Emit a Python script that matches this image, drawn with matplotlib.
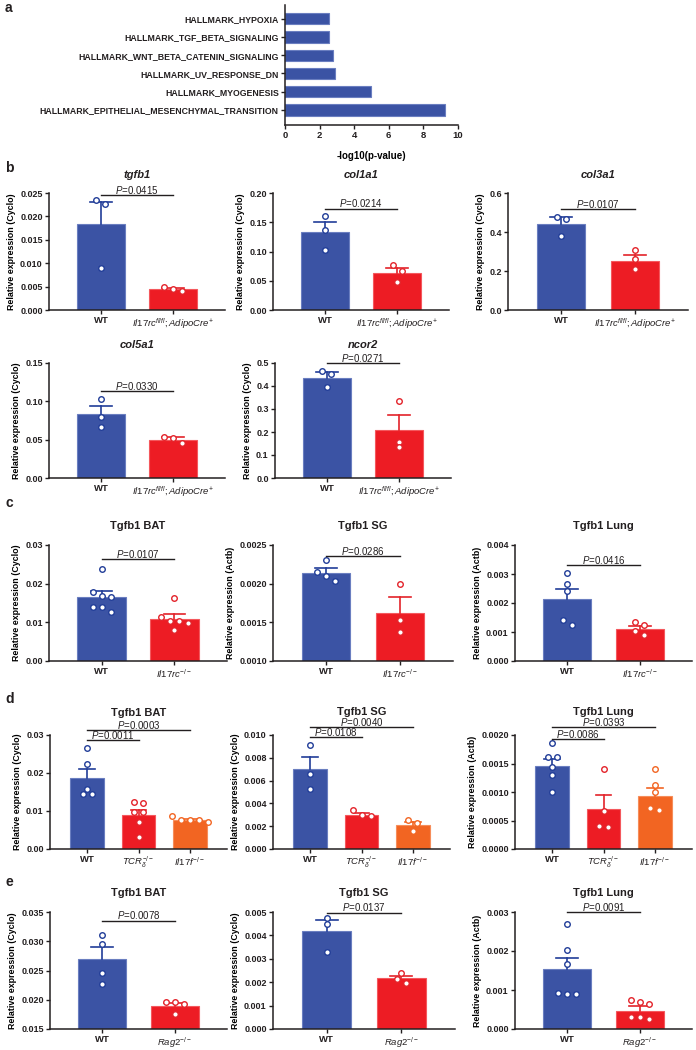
import numpy as np
import matplotlib
matplotlib.use('Agg')
import matplotlib.pyplot as plt

plt.rcParams['font.family'] = ['Liberation Sans', 'DejaVu Sans']
plt.rcParams['mathtext.fontset'] = 'custom'
plt.rcParams['mathtext.rm'] = 'Liberation Sans'
plt.rcParams['mathtext.it'] = 'Liberation Sans:italic'
plt.rcParams['mathtext.bf'] = 'Liberation Sans:bold'
plt.rcParams['text.color'] = '#231F20'

# ---- panel a data ----
a_terms = ['HALLMARK_HYPOXIA', 'HALLMARK_TGF_BETA_SIGNALING',
           'HALLMARK_WNT_BETA_CATENIN_SIGNALING', 'HALLMARK_UV_RESPONSE_DN',
           'HALLMARK_MYOGENESIS', 'HALLMARK_EPITHELIAL_MESENCHYMAL_TRANSITION']
a_values = [2.53, 2.57, 2.76, 2.91, 4.98, 9.27]

# ---- group labels ----
lab_fl = ['WT', r'$\mathit{Il17rc}^{\mathit{fl/fl}}\mathit{;AdipoCre}^{+}$']
lab_rc = ['WT', r'$\mathit{Il17rc}^{-/-}$']
lab_d = ['WT', r'$\mathit{TCR}_{\delta}^{-/-}$', r'$\mathit{Il17f}^{-/-}$']
lab_rag = ['WT', r'$\mathit{Rag2}^{-/-}$']

# ---- panel b ----
tgfb1_mean = [0.0183, 0.00442]
tgfb1_sem = [0.0047, 0.0003]
tgfb1_pts = [[0.0235, 0.0226, 0.0090], [0.0041, 0.0049, 0.0044]]

col1a1_mean = [0.1325, 0.063]
col1a1_sem = [0.0175, 0.0095]
col1a1_pts = [[0.161, 0.136, 0.103], [0.0766, 0.0674, 0.048]]

col3a1_mean = [0.441, 0.252]
col3a1_sem = [0.036, 0.029]
col3a1_pts = [[0.479, 0.469, 0.379], [0.309, 0.264, 0.212]]

col5a1_mean = [0.083, 0.0497]
col5a1_sem = [0.0103, 0.0033]
col5a1_pts = [[0.1024, 0.0799, 0.0669], [0.0535, 0.0518, 0.0454]]

ncor2_mean = [0.435, 0.207]
ncor2_sem = [0.024, 0.065]
ncor2_pts = [[0.467, 0.452, 0.395], [0.335, 0.158, 0.134]]

# ---- panel c ----
c_bat_mean = [0.01656, 0.01095]
c_bat_sem = [0.0016, 0.0012]
c_bat_pts = [[0.0239, 0.0179, 0.0168, 0.0166, 0.0140, 0.0139, 0.0128],
             [0.0162, 0.01035, 0.01035, 0.01146, 0.00991, 0.0080]]

c_sg_mean = [0.00214, 0.001625]
c_sg_sem = [0.00006, 0.0002]
c_sg_pts = [[0.0023, 0.00215, 0.0021, 0.00204], [0.00199, 0.00153, 0.00137]]

c_lung_mean = [0.00214, 0.0011]
c_lung_sem = [0.00036, 0.00012]
c_lung_pts = [[0.00303, 0.00266, 0.00243, 0.0014, 0.00123],
              [0.00125, 0.00133, 0.00105, 0.00088]]

# ---- panel d ----
d_bat_mean = [0.0187, 0.00887, 0.00757]
d_bat_sem = [0.0024, 0.0014, 0.0003]
d_bat_pts = [[0.0267, 0.0224, 0.0159, 0.0144, 0.0144],
             [0.0120, 0.0124, 0.0097, 0.0097, 0.0071, 0.0032],
             [0.0076, 0.0087, 0.0076, 0.0077, 0.0070]]

d_sg_mean = [0.0070, 0.0030, 0.0021]
d_sg_sem = [0.0011, 0.00015, 0.0003]
d_sg_pts = [[0.0091, 0.0066, 0.0053], [0.00338, 0.00286, 0.0030],
            [0.00256, 0.00228, 0.00157]]

d_lung_mean = [0.001464, 0.000703, 0.000934]
d_lung_sem = [0.00011, 0.00024, 0.00013]
d_lung_pts = [[0.001857, 0.001614, 0.001614, 0.00144, 0.0013, 0.000997],
              [0.00141, 0.000663, 0.000386, 0.000403],
              [0.0014, 0.00112, 0.0010, 0.00072, 0.00068]]

# ---- panel e ----
e_bat_mean = [0.02695, 0.0190]
e_bat_sem = [0.0020, 0.0005]
e_bat_pts = [[0.0311, 0.0296, 0.0245, 0.0227], [0.0197, 0.0193, 0.0197, 0.0176]]

e_sg_mean = [0.00417, 0.00217]
e_sg_sem = [0.00047, 0.00011]
e_sg_pts = [[0.00474, 0.00449, 0.00327], [0.00239, 0.00214, 0.00198]]

e_lung_mean = [0.001526, 0.000473]
e_lung_sem = [0.0003, 0.00011]
e_lung_pts = [[0.0027, 0.00202, 0.00166, 0.000905, 0.00092, 0.000905],
              [0.00075, 0.000647, 0.000688, 0.000259, 0.000318, 0.000318]]

FILL = ['#3B53A4', '#ED1C24', '#F26522']
EDGE = ['#6A7EC0', '#F4585D', '#F68D5A']
DARK = ['#213D98', '#E3232A', '#F26522']

W, H = 696, 1050
fig = plt.figure(figsize=(W / 100, H / 100), dpi=100)


def px_axes(x0, y0, x1, y1):
    return fig.add_axes([x0 / W, 1 - y1 / H, (x1 - x0) / W, (y1 - y0) / H])


def style_axes(ax):
    for s in ['top', 'right']:
        ax.spines[s].set_visible(False)
    for s in ['left', 'bottom']:
        ax.spines[s].set_linewidth(1.1)
        ax.spines[s].set_color('#231F20')
    ax.tick_params(direction='out', length=3, width=1, colors='#231F20', pad=1.5)


def swarm(vals, h_px, w_px, ylim, xrange_units):
    ppu = w_px / xrange_units
    ys = [(v - ylim[0]) / (ylim[1] - ylim[0]) * h_px for v in vals]
    order = np.argsort(ys)[::-1]
    clusters = []
    for idx in order:
        if clusters and ys[clusters[-1][-1]] - ys[idx] < 5.5:
            clusters[-1].append(idx)
        else:
            clusters.append([idx])
    offs = np.zeros(len(vals))
    for c in clusters:
        m = len(c)
        for k, idx in enumerate(c):
            offs[idx] = (k - (m - 1) / 2) * 9.0 / ppu
    return offs


def bar_panel(box, title, italic, labels, means, sems, pts, ylim, yticks, fmt,
              ylabel, pvals, title_off=18):
    ax = px_axes(*box)
    style_axes(ax)
    n = len(means)
    x = np.arange(n)
    xr = n - 1 + 1.44
    ax.bar(x, means, width=0.66, color=FILL[:n], edgecolor=EDGE[:n],
           linewidth=0.8, zorder=1)
    h_px = box[3] - box[1]
    w_px = box[2] - box[0]
    for i in range(n):
        top = means[i] + sems[i]
        ax.plot([i, i], [means[i], top], color=DARK[i], lw=1.2, zorder=2)
        ax.plot([i - 0.15, i + 0.15], [top, top], color=DARK[i], lw=1.2, zorder=2)
        offs = swarm(pts[i], h_px, w_px, ylim, xr)
        ax.plot(i + offs, pts[i], 'o', ms=4, mfc='white', mec=DARK[i], mew=1.0,
                zorder=3, clip_on=False)
    ax.set_xlim(-0.72, n - 1 + 0.72)
    ax.set_ylim(ylim)
    ax.set_yticks(yticks)
    ax.set_yticklabels([fmt.format(t) for t in yticks], fontsize=6.5, fontweight='bold')
    ax.set_xticks(x)
    ax.set_xticklabels(labels, fontsize=6.8)
    for t in ax.get_xticklabels():
        if t.get_text() == 'WT':
            t.set_fontweight('bold')
    ax.set_ylabel(ylabel, fontsize=6.4, fontweight='bold', labelpad=3)
    ax.annotate(title, (0.5, 1), xycoords='axes fraction',
                xytext=(0, title_off * 0.72), textcoords='offset points',
                ha='center', va='center', fontsize=8, fontweight='bold',
                style='italic' if italic else 'normal')
    for i, j, y, txt in pvals:
        ax.plot([i, j], [y, y], color='#231F20', lw=1, clip_on=False, zorder=4)
        ax.annotate(r'$\mathit{P}$=' + txt, ((i + j) / 2, y), xytext=(0, -0.5),
                    textcoords='offset points', ha='center', va='bottom',
                    fontsize=7, annotation_clip=False)
    return ax


# ---- panel a ----
axa = px_axes(285, 5, 458, 125)
style_axes(axa)
ypos = np.arange(len(a_terms))[::-1]
axa.barh(ypos, a_values, height=0.62, color=FILL[0], edgecolor=EDGE[0], linewidth=0.8)
axa.set_xlim(0, 10)
axa.set_ylim(-0.82, 5.75)
axa.set_yticks(ypos)
axa.set_yticklabels(a_terms, fontsize=6.3, fontweight='bold')
axa.set_xticks([0, 2, 4, 6, 8, 10])
axa.set_xticklabels(['0', '2', '4', '6', '8', '10'], fontsize=6.8, fontweight='bold')
axa.set_xlabel('-log10(p-value)', fontsize=7, fontweight='bold', labelpad=8)

cyc = 'Relative expression (Cyclo)'
act = 'Relative expression (Actb)'

# ---- panel b ----
bar_panel((49, 193, 225, 310), 'tgfb1', True, lab_fl, tgfb1_mean, tgfb1_sem, tgfb1_pts,
          (0, 0.025), np.arange(0, 0.0251, 0.005), '{:.3f}', cyc,
          [(0, 1, 0.0246, '0.0415')])
bar_panel((273, 193, 449, 310), 'col1a1', True, lab_fl, col1a1_mean, col1a1_sem, col1a1_pts,
          (0, 0.20), np.arange(0, 0.201, 0.05), '{:.2f}', cyc,
          [(0, 1, 0.173, '0.0214')])
bar_panel((508, 193, 688, 310), 'col3a1', True, lab_fl, col3a1_mean, col3a1_sem, col3a1_pts,
          (0, 0.6), np.arange(0, 0.61, 0.2), '{:.1f}', cyc,
          [(0, 1, 0.517, '0.0107')])
bar_panel((49, 363, 225, 478), 'col5a1', True, lab_fl, col5a1_mean, col5a1_sem, col5a1_pts,
          (0, 0.15), np.arange(0, 0.151, 0.05), '{:.2f}', cyc,
          [(0, 1, 0.1137, '0.0330')])
bar_panel((275, 363, 451, 478), 'ncor2', True, lab_fl, ncor2_mean, ncor2_sem, ncor2_pts,
          (0, 0.5), np.arange(0, 0.51, 0.1), '{:.1f}', cyc,
          [(0, 1, 0.50, '0.0271')])

# ---- panel c ----
bar_panel((49, 545, 227, 661), 'Tgfb1 BAT', False, lab_rc, c_bat_mean, c_bat_sem, c_bat_pts,
          (0, 0.03), np.arange(0, 0.031, 0.01), '{:.2f}', cyc,
          [(0, 1, 0.0264, '0.0107')], title_off=19)
bar_panel((273, 545, 453, 661), 'Tgfb1 SG', False, lab_rc, c_sg_mean, c_sg_sem, c_sg_pts,
          (0.001, 0.0025), np.arange(0.001, 0.00251, 0.0005), '{:.4f}', act,
          [(0, 1, 0.00236, '0.0286')], title_off=19)
bar_panel((515, 545, 692, 661), 'Tgfb1 Lung', False, lab_rc, c_lung_mean, c_lung_sem, c_lung_pts,
          (0, 0.004), np.arange(0, 0.0041, 0.001), '{:.3f}', act,
          [(0, 1, 0.00331, '0.0416')], title_off=19)

# ---- panel d ----
bar_panel((50, 735, 227, 849), 'Tgfb1 BAT', False, lab_d, d_bat_mean, d_bat_sem, d_bat_pts,
          (0, 0.03), np.arange(0, 0.031, 0.01), '{:.2f}', cyc,
          [(0, 2, 0.0313, '0.0003'), (0, 1, 0.0287, '0.0011')], title_off=22.5)
bar_panel((273, 735, 450, 849), 'Tgfb1 SG', False, lab_d, d_sg_mean, d_sg_sem, d_sg_pts,
          (0, 0.010), np.arange(0, 0.0101, 0.002), '{:.3f}', cyc,
          [(0, 2, 0.0107, '0.0040'), (0, 1, 0.0098, '0.0108')], title_off=23)
bar_panel((515, 735, 692, 849), 'Tgfb1 Lung', False, lab_d, d_lung_mean, d_lung_sem, d_lung_pts,
          (0, 0.002), np.arange(0, 0.00201, 0.0005), '{:.4f}', act,
          [(0, 2, 0.00214, '0.0393'), (0, 1, 0.00193, '0.0086')], title_off=23)

# ---- panel e ----
bar_panel((50, 912, 227, 1029), 'Tgfb1 BAT', False, lab_rag, e_bat_mean, e_bat_sem, e_bat_pts,
          (0.015, 0.035), np.arange(0.015, 0.0351, 0.005), '{:.3f}', cyc,
          [(0, 1, 0.0335, '0.0078')], title_off=19)
bar_panel((273, 912, 455, 1029), 'Tgfb1 SG', False, lab_rag, e_sg_mean, e_sg_sem, e_sg_pts,
          (0, 0.005), np.arange(0, 0.0051, 0.001), '{:.3f}', cyc,
          [(0, 1, 0.00497, '0.0137')], title_off=19)
bar_panel((515, 912, 692, 1029), 'Tgfb1 Lung', False, lab_rag, e_lung_mean, e_lung_sem, e_lung_pts,
          (0, 0.003), np.arange(0, 0.00301, 0.001), '{:.3f}', act,
          [(0, 1, 0.0030, '0.0091')], title_off=19)

# panel letters
for letter, yy in [('a', 8), ('b', 168), ('c', 503), ('d', 699), ('e', 882)]:
    fig.text(5 / W, 1 - yy / H, letter, fontsize=10, fontweight='bold', va='center')

fig.savefig('out.png', dpi=100)
